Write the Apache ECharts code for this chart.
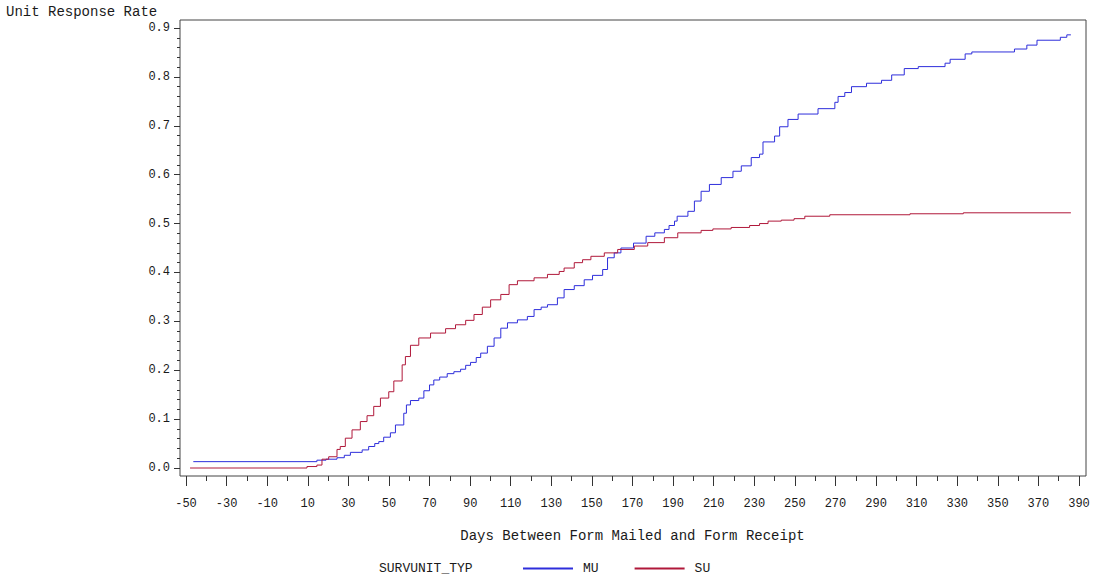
<!DOCTYPE html>
<html>
<head>
<meta charset="utf-8">
<script src="https://cdn.jsdelivr.net/npm/echarts@6/dist/echarts.min.js"></script>
<style>html,body{margin:0;padding:0;background:#fff;}#c{width:1097px;height:579px;}</style>
</head>
<body>
<div id="c"></div>
<script>
// ---- data ----
var seriesNames = ['MU', 'SU'];
var seriesColors = ['#2E2EDB', '#B0183A'];
var muDays = [-46.4, 14.5, 19, 24.4, 28, 31, 36.8, 40, 43, 45, 47.4, 50.7, 53.2, 57.3, 58.6, 60.6, 64.7, 67.2, 70, 72.1, 75, 78.7, 82, 85.3, 87.8, 90.2, 93, 95.2, 98.5, 101.8, 105.1, 108.4, 113.3, 118.2, 121.5, 125, 128.1, 133, 136.3, 141.3, 146.2, 150.3, 155.3, 157.7, 161, 164.3, 170.5, 176.7, 181, 185.7, 188, 190.7, 192, 197.3, 200.5, 203.8, 207.9, 213.7, 219.5, 223.6, 228.5, 232.6, 234.3, 240, 242.5, 246.6, 251.6, 261.4, 269.7, 271.3, 274.6, 277.9, 285.3, 292.7, 297.7, 303.9, 310.8, 324, 326.5, 333.9, 337.2, 358.2, 364.3, 369.3, 380.8, 384, 386];
var muRate = [0.013, 0.016, 0.018, 0.021, 0.026, 0.032, 0.037, 0.044, 0.050, 0.054, 0.063, 0.072, 0.088, 0.112, 0.129, 0.138, 0.143, 0.158, 0.170, 0.180, 0.186, 0.193, 0.197, 0.202, 0.210, 0.216, 0.226, 0.235, 0.249, 0.266, 0.286, 0.297, 0.303, 0.310, 0.324, 0.329, 0.334, 0.348, 0.365, 0.373, 0.385, 0.394, 0.406, 0.430, 0.440, 0.450, 0.460, 0.474, 0.481, 0.488, 0.496, 0.505, 0.515, 0.525, 0.546, 0.566, 0.580, 0.594, 0.607, 0.618, 0.635, 0.642, 0.667, 0.679, 0.698, 0.713, 0.724, 0.735, 0.748, 0.760, 0.768, 0.780, 0.787, 0.793, 0.804, 0.817, 0.821, 0.828, 0.836, 0.847, 0.851, 0.857, 0.865, 0.875, 0.881, 0.886, 0.886];
var suDays = [-48, 9.6, 14.5, 17, 20.3, 24.4, 26, 28.5, 31.8, 35.9, 39.2, 42.5, 45.8, 49.9, 52.4, 56.5, 58.1, 60.6, 64.7, 70.5, 77.9, 82.8, 87.8, 91.9, 96, 100.1, 105.1, 109.2, 113.3, 121.5, 128.1, 133.9, 136.3, 141.3, 145.4, 149.5, 156.1, 162.7, 170.9, 177.5, 185.7, 192.3, 203.8, 209.6, 218.6, 227.7, 232.6, 236.8, 243.3, 249.6, 254.9, 267.2, 306.7, 333, 386];
var suRate = [0, 0.003, 0.006, 0.018, 0.023, 0.038, 0.044, 0.061, 0.078, 0.095, 0.107, 0.126, 0.143, 0.156, 0.178, 0.211, 0.228, 0.251, 0.266, 0.276, 0.285, 0.293, 0.302, 0.314, 0.329, 0.344, 0.355, 0.375, 0.383, 0.389, 0.396, 0.402, 0.409, 0.420, 0.426, 0.433, 0.440, 0.447, 0.454, 0.461, 0.471, 0.481, 0.486, 0.489, 0.492, 0.496, 0.500, 0.505, 0.507, 0.510, 0.515, 0.518, 0.520, 0.522, 0.522];
var xMin = -50, xMax = 390, xStep = 20;
var yMin = 0, yMax = 0.9, yStep = 0.1;
var yTitle = 'Unit Response Rate';
var xTitle = 'Days Between Form Mailed and Form Receipt';
var legendTitle = 'SURVUNIT_TYP';

function zip(a, b) { return a.map(function (v, i) { return [v, b[i]]; }); }

var FONT = 'Liberation Mono';
var TXT = '#1a1a1a';
var chart = echarts.init(document.getElementById('c'), null, { renderer: 'svg' });
chart.setOption({
  animation: false,
  backgroundColor: '#fff',
  title: {
    text: yTitle, left: 6, top: 5, padding: 0,
    textStyle: { fontFamily: FONT, fontSize: 14, fontWeight: 'normal', color: TXT }
  },
  graphic: [{
    type: 'text', left: 379, top: 562,
    style: { text: legendTitle, fontFamily: FONT, fontSize: 13, fill: TXT }
  }],
  legend: {
    left: 518, top: 557, itemWidth: 50, itemHeight: 2, itemGap: 36, icon: 'rect',
    data: seriesNames.map(function (n, i) {
      return { name: n, itemStyle: { color: seriesColors[i], borderWidth: 0 } };
    }),
    textStyle: { fontFamily: FONT, fontSize: 13, color: TXT, padding: [0, 0, 0, 5] }
  },
  grid: [
    { left: 186, right: 18, top: 28, bottom: 111, show: false },
    { left: 180, right: 11, top: 20, bottom: 103, show: true, borderColor: '#444', borderWidth: 1, backgroundColor: 'transparent' }
  ],
  xAxis: [
    {
      gridIndex: 0, type: 'value', min: xMin, max: xMax, interval: xStep, offset: 8,
      axisLine: { show: false, onZero: false },
      axisTick: { show: true, length: 10, lineStyle: { color: '#333' } },
      minorTick: { show: true, splitNumber: 2, length: 5, lineStyle: { color: '#333' } },
      splitLine: { show: false },
      axisLabel: { margin: 22, fontFamily: FONT, fontSize: 12, color: TXT },
      name: xTitle, nameLocation: 'middle', nameGap: 53,
      nameTextStyle: { fontFamily: FONT, fontSize: 14, color: TXT }
    },
    { gridIndex: 1, type: 'value', show: false, axisLine: { onZero: false } }
  ],
  yAxis: [
    {
      gridIndex: 0, type: 'value', min: yMin, max: yMax, interval: yStep, offset: 6,
      axisLine: { show: false, onZero: false },
      axisTick: { show: true, length: 6, lineStyle: { color: '#333' } },
      minorTick: { show: true, splitNumber: 5, length: 3, lineStyle: { color: '#333' } },
      splitLine: { show: false },
      axisLabel: { margin: 10, fontFamily: FONT, fontSize: 12, color: TXT,
        formatter: function (v) { return v.toFixed(1); } }
    },
    { gridIndex: 1, type: 'value', show: false, axisLine: { onZero: false } }
  ],
  series: [
    {
      name: seriesNames[0], type: 'line', step: 'end', showSymbol: false, symbol: 'none',
      xAxisIndex: 0, yAxisIndex: 0, clip: false,
      data: zip(muDays, muRate),
      lineStyle: { color: seriesColors[0], width: 1 }, itemStyle: { color: seriesColors[0] }
    },
    {
      name: seriesNames[1], type: 'line', step: 'end', showSymbol: false, symbol: 'none',
      xAxisIndex: 0, yAxisIndex: 0, clip: false,
      data: zip(suDays, suRate),
      lineStyle: { color: seriesColors[1], width: 1 }, itemStyle: { color: seriesColors[1] }
    }
  ]
});
</script>
</body>
</html>
